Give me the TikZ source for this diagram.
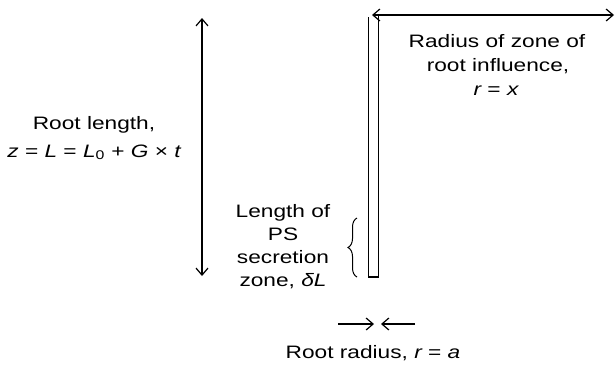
\documentclass[tikz,border=0pt]{standalone}
\usepackage{fontspec}
\setmainfont[FakeStretch=1.26]{Liberation Sans}
\usetikzlibrary{arrows.meta,decorations.pathreplacing}
\begin{document}
\begin{tikzpicture}[x=1pt,y=-1pt,
  lbl/.style={font=\fontsize{18}{23}\selectfont, anchor=base, inner sep=0pt},
  arr/.style={line width=1.2pt, -{Straight Barb[length=7pt,width=12pt]}},
  darr/.style={line width=1.2pt, {Straight Barb[length=7pt,width=12pt]}-{Straight Barb[length=7pt,width=12pt]}}]
\useasboundingbox (0,0) rectangle (616,365);
% root
\draw[line width=1.2pt] (368.5,17) -- (368.5,277) -- (378.5,277) -- (378.5,15);
% root length arrow
\coordinate (rlt) at (202,18);
\coordinate (rlb) at (202,276);
\draw[darr] (rlt) -- (rlb);
% radius of influence arrow
\coordinate (rit) at (372,15);
\coordinate (rir) at (614,15);
\draw[darr] (rit) -- (rir);
% brace
\coordinate (bt) at (357,218);
\coordinate (bb) at (357,277);
\draw[line width=1pt, decorate, decoration={brace, amplitude=9pt, mirror}] (bt) -- (bb);
% small arrows
\coordinate (a1) at (338,324);
\coordinate (a2) at (374,324);
\coordinate (a3) at (415,324);
\coordinate (a4) at (381,324);
\draw[arr] (a1) -- (a2);
\draw[arr] (a3) -- (a4);
% labels
\node[lbl] (rz1) at (497,47) {Radius of zone of};
\node[lbl] (rz2) at (498,71) {root influence,};
\node[lbl] (rz3) at (496,95) {{\itshape r} = {\itshape x}};
\node[lbl] (rl1) at (94,129) {Root length,};
\node[lbl] (rl2) at (94,157) {{\itshape z} = {\itshape L} = {\itshape L}\textsubscript{0} + {\itshape G} × {\itshape t}};
\node[lbl] (ps1) at (283,217) {Length of};
\node[lbl] (ps2) at (283,240) {PS};
\node[lbl] (ps3) at (283,263) {secretion};
\node[lbl] (ps4) at (283,286) {zone, {\itshape δL}};
\node[lbl] (rr) at (373,358) {Root radius, {\itshape r} = {\itshape a}};
\end{tikzpicture}
\end{document}
